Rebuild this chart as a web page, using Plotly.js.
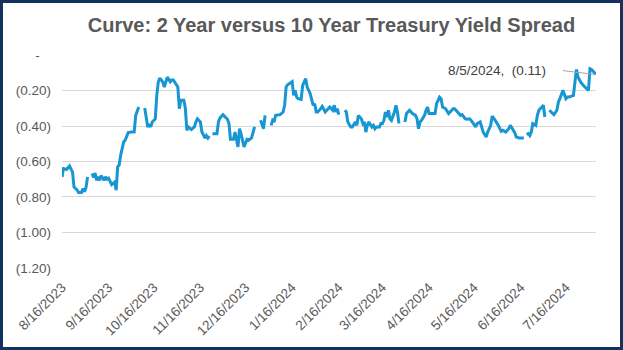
<!DOCTYPE html>
<html><head><meta charset="utf-8">
<script src="https://cdn.plot.ly/plotly-3.0.1.min.js"></script>
<style>
html,body{margin:0;padding:0;background:#fff;}
#wrap{position:relative;width:623px;height:350px;overflow:hidden;}
#chart{width:623px;height:350px;}
#frame{position:absolute;left:0;top:0;width:623px;height:350px;box-sizing:border-box;border:3px solid #14325c;pointer-events:none;}
</style></head><body>
<div id="wrap"><div id="chart"></div><div id="frame"></div></div>
<script>
const chartTitle = 'Curve: 2 Year versus 10 Year Treasury Yield Spread';

const dates = [
'2023-08-16','2023-08-17','2023-08-19','2023-08-21','2023-08-23','2023-08-24','2023-08-26','2023-08-27','2023-08-29','2023-08-30',
'2023-08-31','2023-09-01','2023-09-02','2023-09-04','2023-09-05','2023-09-06','2023-09-07','2023-09-08','2023-09-09','2023-09-10',
'2023-09-11','2023-09-13','2023-09-14','2023-09-15','2023-09-16','2023-09-17','2023-09-18','2023-09-20','2023-09-21','2023-09-22',
'2023-09-23','2023-09-24','2023-09-26','2023-09-27','2023-09-28','2023-09-29','2023-10-01','2023-10-03','2023-10-04','2023-10-05',
'2023-10-06','2023-10-09','2023-10-10','2023-10-11','2023-10-12','2023-10-13','2023-10-14','2023-10-15','2023-10-17','2023-10-18',
'2023-10-19','2023-10-20','2023-10-22','2023-10-23','2023-10-24','2023-10-25','2023-10-27','2023-10-28','2023-10-29','2023-10-31',
'2023-11-01','2023-11-02','2023-11-03','2023-11-05','2023-11-06','2023-11-07','2023-11-08','2023-11-10','2023-11-12','2023-11-13',
'2023-11-14','2023-11-16','2023-11-17','2023-11-18','2023-11-19','2023-11-20','2023-11-21','2023-11-22','2023-11-23','2023-11-24',
'2023-11-27','2023-11-28','2023-11-29','2023-12-01','2023-12-02','2023-12-04','2023-12-05','2023-12-06','2023-12-08','2023-12-09',
'2023-12-10','2023-12-11','2023-12-12','2023-12-13','2023-12-15','2023-12-16','2023-12-17','2023-12-18','2023-12-20','2023-12-22',
'2023-12-25','2023-12-26','2023-12-27','2023-12-28','2023-12-29','2024-01-01','2024-01-02','2024-01-03','2024-01-04','2024-01-05',
'2024-01-08','2024-01-10','2024-01-11','2024-01-12','2024-01-13','2024-01-15','2024-01-16','2024-01-17','2024-01-18','2024-01-19',
'2024-01-20','2024-01-22','2024-01-23','2024-01-25','2024-01-26','2024-01-27','2024-01-28','2024-01-30','2024-01-31','2024-02-01',
'2024-02-02','2024-02-04','2024-02-05','2024-02-07','2024-02-09','2024-02-10','2024-02-12','2024-02-13','2024-02-14','2024-02-15',
'2024-02-16','2024-02-19','2024-02-20','2024-02-21','2024-02-22','2024-02-24','2024-02-25','2024-02-27','2024-02-28','2024-02-29',
'2024-03-02','2024-03-03','2024-03-04','2024-03-05','2024-03-06','2024-03-07','2024-03-09','2024-03-10','2024-03-11','2024-03-12',
'2024-03-14','2024-03-15','2024-03-16','2024-03-17','2024-03-18','2024-03-19','2024-03-20','2024-03-21','2024-03-22','2024-03-24',
'2024-03-25','2024-03-26','2024-03-27','2024-03-29','2024-03-31','2024-04-01','2024-04-03','2024-04-04','2024-04-05','2024-04-07',
'2024-04-08','2024-04-09','2024-04-10','2024-04-11','2024-04-13','2024-04-14','2024-04-15','2024-04-16','2024-04-18','2024-04-20',
'2024-04-21','2024-04-23','2024-04-24','2024-04-25','2024-04-27','2024-04-29','2024-04-30','2024-05-02','2024-05-03','2024-05-05',
'2024-05-07','2024-05-08','2024-05-10','2024-05-11','2024-05-13','2024-05-14','2024-05-16','2024-05-17','2024-05-18','2024-05-20',
'2024-05-21','2024-05-22','2024-05-24','2024-05-25','2024-05-27','2024-05-28','2024-05-30','2024-05-31','2024-06-01','2024-06-03',
'2024-06-04','2024-06-06','2024-06-08','2024-06-09','2024-06-11','2024-06-12','2024-06-13','2024-06-15','2024-06-17','2024-06-18',
'2024-06-19','2024-06-20','2024-06-21','2024-06-22','2024-06-23','2024-06-24','2024-06-26','2024-06-27','2024-06-28','2024-06-30',
'2024-07-01','2024-07-02','2024-07-04','2024-07-05','2024-07-06','2024-07-07','2024-07-08','2024-07-10','2024-07-11','2024-07-12',
'2024-07-13','2024-07-14','2024-07-16','2024-07-17','2024-07-18','2024-07-20','2024-07-21','2024-07-22','2024-07-23','2024-07-24',
'2024-07-26','2024-07-28','2024-07-30','2024-07-31','2024-08-01','2024-08-02','2024-08-04','2024-08-05'
];

const spread = [
-0.687,-0.640,-0.645,-0.625,-0.660,-0.744,-0.760,-0.775,-0.775,-0.753,
-0.770,-0.745,-0.687,null,-0.668,-0.690,-0.665,-0.706,-0.687,-0.706,
-0.680,-0.706,-0.687,-0.700,-0.694,-0.710,-0.730,-0.716,-0.762,-0.630,
-0.620,-0.565,-0.490,-0.480,-0.452,-0.437,-0.434,-0.434,-0.340,-0.310,
-0.293,null,-0.298,-0.350,-0.405,-0.390,-0.405,-0.377,-0.360,-0.227,
-0.152,-0.130,-0.152,-0.180,-0.155,-0.124,-0.150,-0.140,-0.140,-0.167,
-0.180,-0.302,-0.255,-0.255,-0.300,-0.424,-0.405,-0.420,-0.405,-0.377,
-0.359,-0.377,-0.434,-0.449,-0.468,-0.454,-0.468,-0.457,null,-0.443,
-0.443,-0.377,-0.355,-0.336,-0.343,-0.362,-0.386,-0.475,-0.475,-0.434,
-0.475,-0.518,-0.415,-0.443,-0.518,-0.500,-0.475,-0.480,-0.468,-0.405,
null,-0.368,-0.396,-0.415,-0.340,null,-0.396,-0.368,-0.377,-0.340,
-0.336,-0.321,-0.283,-0.180,-0.167,-0.156,-0.150,-0.227,-0.199,-0.237,
-0.246,-0.250,-0.171,-0.133,-0.180,-0.199,-0.218,-0.283,-0.274,-0.321,
-0.321,-0.302,-0.289,-0.321,-0.302,-0.293,-0.311,-0.283,-0.321,-0.302,
-0.336,null,-0.311,-0.321,-0.377,-0.405,-0.405,-0.377,-0.396,-0.340,
-0.359,-0.386,-0.377,-0.434,-0.396,-0.377,-0.405,-0.396,-0.415,-0.405,
-0.405,-0.386,-0.386,-0.368,-0.321,-0.349,-0.311,-0.359,-0.368,-0.321,
-0.283,-0.321,-0.386,null,-0.377,-0.330,-0.311,-0.321,-0.330,-0.340,
-0.359,-0.415,-0.377,-0.368,-0.340,-0.311,-0.293,-0.330,-0.330,-0.330,
-0.274,-0.237,-0.246,-0.293,-0.302,-0.330,-0.321,-0.302,-0.302,-0.321,
-0.340,-0.336,-0.359,-0.362,-0.359,-0.368,-0.396,-0.405,-0.386,-0.377,
-0.405,-0.434,-0.462,-0.434,-0.396,-0.344,-0.368,-0.386,-0.396,-0.430,
-0.424,-0.434,-0.415,-0.396,-0.424,-0.437,-0.462,-0.468,-0.468,-0.468,
null,-0.449,-0.443,-0.454,-0.434,-0.386,-0.396,-0.340,-0.311,-0.293,
-0.283,-0.349,null,-0.311,-0.321,-0.330,-0.336,-0.311,-0.265,-0.246,
-0.218,-0.199,-0.246,-0.237,-0.237,-0.230,-0.227,-0.152,-0.081,-0.124,
-0.155,-0.174,-0.188,-0.199,-0.077,-0.081,-0.100,-0.110
];

const yTickVals = [0, -0.2, -0.4, -0.6, -0.8, -1.0, -1.2];
const yTickText = ['-\u00a0\u00a0\u00a0', '(0.20)', '(0.40)', '(0.60)', '(0.80)', '(1.00)', '(1.20)'];

const xTickVals = ['2023-08-16','2023-09-16','2023-10-16','2023-11-16','2023-12-16','2024-01-16',
                   '2024-02-16','2024-03-16','2024-04-16','2024-05-16','2024-06-16','2024-07-16'];
const xTickText = ['8/16/2023','9/16/2023','10/16/2023','11/16/2023','12/16/2023','1/16/2024',
                   '2/16/2024','3/16/2024','4/16/2024','5/16/2024','6/16/2024','7/16/2024'];

const lastDate = dates[dates.length - 1];
const lastVal = spread[spread.length - 1];
const dParts = lastDate.split('-');
const labelText = (+dParts[1]) + '/' + (+dParts[2]) + '/' + dParts[0] + ',  (' + Math.abs(lastVal).toFixed(2) + ')';

const FONT = '"Liberation Sans", Arial, sans-serif';
const GRAY = '#595959';

const trace = {
  x: dates, y: spread, type: 'scatter', mode: 'lines',
  connectgaps: false,
  line: {color: '#1696d2', width: 3, shape: 'linear'},
  hoverinfo: 'skip'
};

const layout = {
  width: 623, height: 350,
  margin: {l: 62, r: 27, t: 55, b: 82},
  paper_bgcolor: '#ffffff', plot_bgcolor: '#ffffff',
  showlegend: false,
  title: {
    text: '<b>' + chartTitle + '</b>',
    font: {family: '"Liberation Sans Narrow", "Arial Narrow", "Liberation Sans", sans-serif', size: 20, color: GRAY},
    x: 0.532, xref: 'container', xanchor: 'center',
    y: 0.93, yref: 'container', yanchor: 'middle'
  },
  xaxis: {
    type: 'date',
    range: [dates[0], lastDate],
    tickvals: xTickVals, ticktext: xTickText,
    tickangle: -45,
    tickfont: {family: FONT, size: 13.5, color: GRAY},
    showgrid: false, zeroline: false, showline: false, ticks: '',
    ticklabelstandoff: 8
  },
  yaxis: {
    range: [-1.2005, 0.0005],
    tickvals: yTickVals, ticktext: yTickText,
    tickfont: {family: FONT, size: 13.5, color: GRAY},
    showgrid: true, gridcolor: '#d9d9d9', gridwidth: 1,
    zeroline: false, showline: false, ticks: '',
    ticklabelstandoff: 10
  },
  annotations: [{
    x: lastDate, y: lastVal, xref: 'x', yref: 'y',
    text: labelText,
    showarrow: true, arrowhead: 0, arrowwidth: 1, arrowcolor: '#a6a6a6',
    ax: -33, ay: -4,
    xanchor: 'right', yanchor: 'middle',
    borderpad: 16,
    font: {family: FONT, size: 13.5, color: '#404040'}
  }]
};

Plotly.newPlot('chart', [trace], layout, {staticPlot: true, displayModeBar: false});
</script>
</body></html>
